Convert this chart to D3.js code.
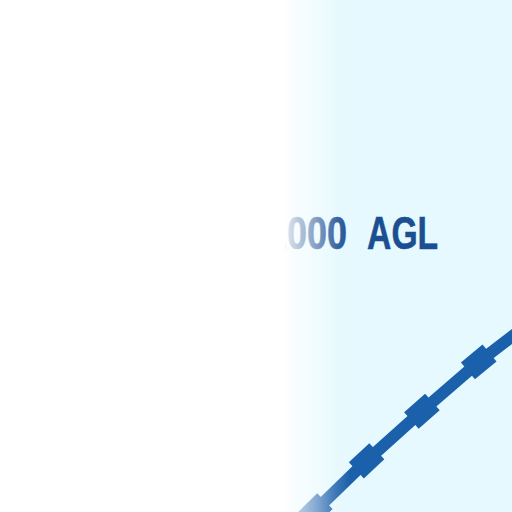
<!DOCTYPE html>
<html>
<head>
<meta charset="utf-8">
<script src="https://cdn.jsdelivr.net/npm/d3@7"></script>
<style>
  html, body { margin: 0; padding: 0; background: #fff; }
  svg { display: block; }
</style>
</head>
<body>
<div id="chart"></div>
<script>
// airspace boundary, in percent of the frame
var routeX = [58.6, 61.5, 71.6, 82.4, 93.5, 101.6];
var routeY = [102.7, 99.8, 90.0, 80.3, 70.7, 64.5];
var tickIndex = [1, 2, 3, 4];
var labelParts = ["1000", "AGL"];
var labelX = [52.15, 71.7];
var labelY = [48.6, 48.6];

var WIDTH = 512, HEIGHT = 512;
var x = d3.scaleLinear().domain([0, 100]).range([0, WIDTH]);
var y = d3.scaleLinear().domain([0, 100]).range([0, HEIGHT]);

var svg = d3.select("#chart").append("svg")
    .attr("width", WIDTH)
    .attr("height", HEIGHT);

// white wash fading the left half
var fade = svg.append("defs").append("linearGradient")
    .attr("id", "fade")
    .attr("x1", 0).attr("x2", 1).attr("y1", 0).attr("y2", 0);
[[0.555, 1], [0.566, 0.8], [0.619, 0.45], [0.656, 0.15], [0.684, 0]].forEach(function(s){
    fade.append("stop").attr("offset", s[0]).attr("stop-color", "#fff").attr("stop-opacity", s[1]);
});

svg.append("rect")
    .attr("width", WIDTH).attr("height", HEIGHT)
    .attr("fill", "#e5f9fe");

var pts = routeX.map(function(d, i){ return [x(d), y(routeY[i])]; });

svg.append("path")
    .datum(pts)
    .attr("d", d3.line())
    .attr("fill", "none")
    .attr("stroke", "#1b60aa")
    .attr("stroke-width", 12)
    .attr("stroke-linejoin", "round");

svg.selectAll("rect.tick")
    .data(tickIndex).enter()
    .append("rect")
    .attr("class", "tick")
    .attr("x", -14).attr("y", -11)
    .attr("width", 28).attr("height", 22)
    .attr("fill", "#1b60aa")
    .attr("transform", function(i){
        var a = pts[i - 1], b = pts[i + 1];
        var ang = Math.atan2(b[1] - a[1], b[0] - a[0]) * 180 / Math.PI;
        return "translate(" + pts[i][0] + "," + pts[i][1] + ")rotate(" + ang + ")";
    });

var lens = [80, 71];
svg.selectAll("text.lbl")
    .data(labelParts).enter()
    .append("text")
    .attr("class", "lbl")
    .attr("x", function(d, i){ return x(labelX[i]); })
    .attr("y", function(d, i){ return y(labelY[i]); })
    .attr("textLength", function(d, i){ return lens[i]; })
    .attr("lengthAdjust", "spacingAndGlyphs")
    .attr("font-family", "'Liberation Sans', Arial, sans-serif")
    .attr("font-weight", "bold")
    .attr("font-size", 47)
    .attr("fill", "#1b4f92")
    .attr("stroke", "#1b4f92")
    .attr("stroke-width", 0.6)
    .text(function(d){ return d; });

svg.append("rect")
    .attr("width", WIDTH).attr("height", HEIGHT)
    .attr("fill", "url(#fade)");
</script>
</body>
</html>
